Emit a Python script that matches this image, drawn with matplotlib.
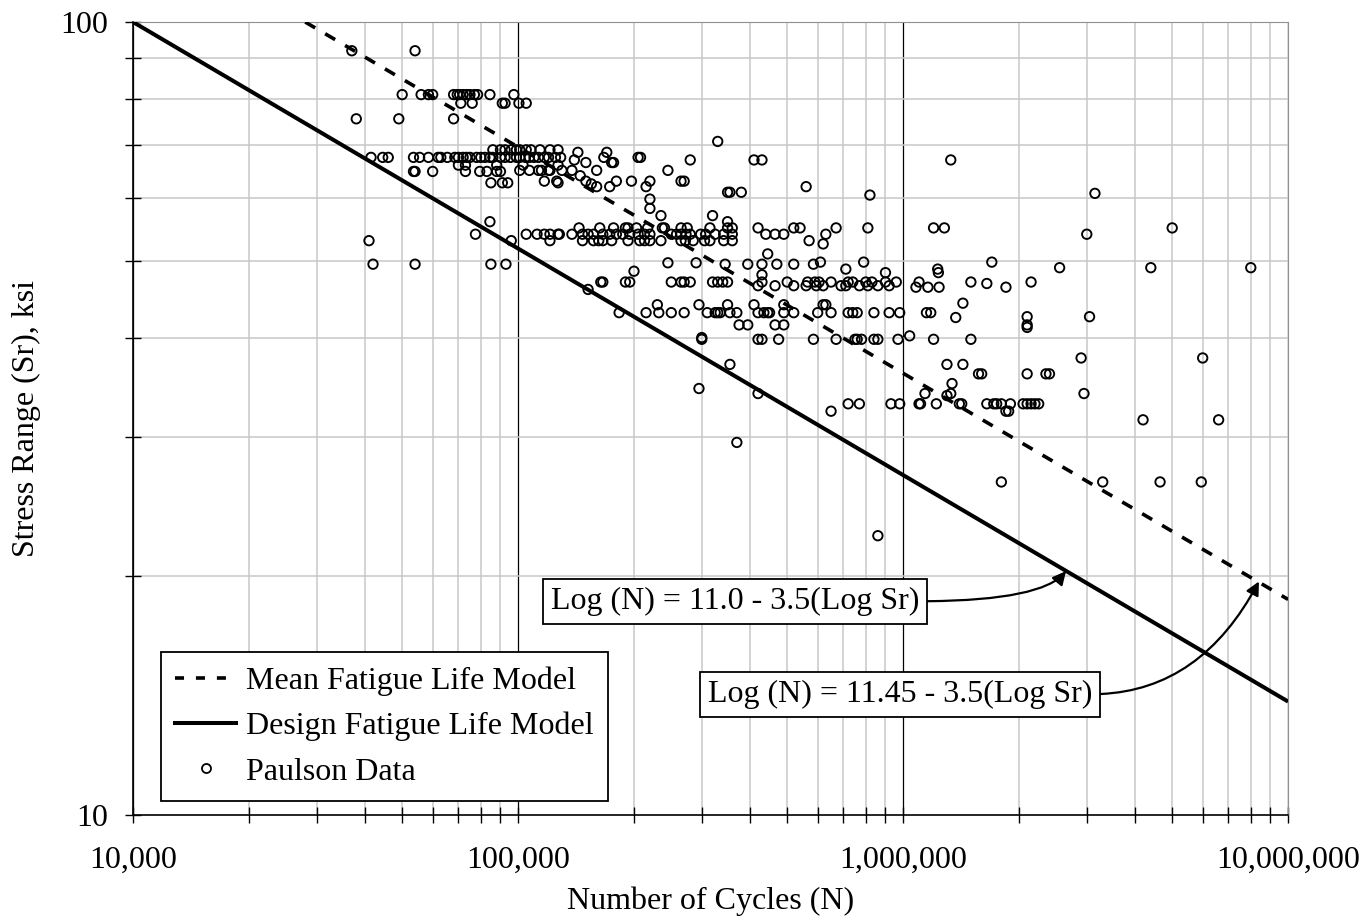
import matplotlib
matplotlib.use("Agg")
import matplotlib.pyplot as plt
from matplotlib.ticker import FuncFormatter, NullFormatter, LogLocator
from matplotlib.lines import Line2D

plt.rcParams['font.family'] = ['Liberation Serif', 'DejaVu Serif']
plt.rcParams['font.size'] = 23

# fatigue life model lines (end points)
design_n = [1e4, 1e7]
design_sr = [100.0, 13.9]
mean_n = [2.8e4, 1e7]
mean_sr = [100.0, 18.7]

# Paulson data, (cycles, stress range ksi)
paulson_low = [
    (37000, 92), (54000, 92),
    (50000, 81), (56000, 81), (58500, 81), (60000, 81), (68000, 81), (69500, 81),
    (70500, 81), (72000, 81), (73500, 81), (75000, 81), (77000, 81), (78500, 81),
    (84500, 81), (97500, 81),
    (71000, 79), (76000, 79), (91000, 79), (92500, 79), (100500, 79),
    (38000, 75.5), (49000, 75.5), (68000, 75.5),
    (86000, 69), (90000, 69), (92500, 69), (96000, 69), (99000, 69),
    (41500, 67.5), (44500, 67.5), (46000, 67.5), (53500, 67.5), (55500, 67.5),
    (58500, 67.5), (62000, 67.5), (63000, 67.5), (65500, 67.5), (68500, 67.5),
    (70000, 67.5), (72000, 67.5), (73500, 67.5), (75000, 67.5), (78000, 67.5),
    (80000, 67.5), (82000, 67.5), (84500, 67.5), (86000, 67.5), (90000, 67.5),
    (92500, 67.5), (95500, 67.5), (99000, 67.5),
    (70000, 66), (73000, 66), (88000, 66),
    (53500, 64.8), (54000, 64.8), (60000, 64.8), (73000, 64.8), (79500, 64.8),
    (83000, 64.8), (88000, 64.8), (90000, 64.8),
    (85000, 62.7), (91000, 62.7), (94000, 62.7),
    (41000, 53), (96000, 53), (77500, 54), (84500, 56),
    (42000, 49.5), (54000, 49.5), (85000, 49.5), (93000, 49.5),
]

paulson_mid = [
    (105000, 79), (330000, 70.7),
    (101000, 69), (105000, 69), (108000, 69), (114000, 69), (121000, 69),
    (127000, 69), (143000, 68.5), (170000, 68.5),
    (101000, 67.5), (104500, 67.5), (107000, 67.5), (110000, 67.5), (113000, 67.5),
    (117000, 67.5), (120000, 67.5), (125000, 67.5), (129000, 67.5), (167000, 67.5),
    (205000, 67.5), (208000, 67.5),
    (140000, 67), (280000, 67), (410000, 67), (430000, 67),
    (150000, 66.5), (175000, 66.5), (177000, 66.5), (103000, 66), (127000, 66),
    (101000, 65), (107000, 65), (113000, 65), (115000, 65), (120000, 65),
    (121000, 65), (130000, 65), (138000, 65), (160000, 65), (245000, 65),
    (145000, 64),
    (117000, 63), (126000, 63), (127000, 62.7), (150000, 63), (180000, 63),
    (197000, 63), (220000, 63), (265000, 63), (270000, 63),
    (155000, 62.5), (160000, 62), (173000, 62), (215000, 62),
    (350000, 61), (355000, 61), (380000, 61), (560000, 62), (820000, 60.5),
    (220000, 59.8), (220000, 58.2), (235000, 57), (320000, 57), (350000, 56),
    (105000, 54), (112000, 54), (117000, 54), (127000, 54), (121000, 53),
    (144000, 55), (163000, 55), (177000, 55), (190000, 55), (193000, 55),
    (203000, 55), (217000, 55), (237000, 55), (240000, 55), (265000, 55),
    (275000, 55), (315000, 55), (350000, 55), (360000, 55), (420000, 55),
    (520000, 55), (540000, 55), (670000, 55), (810000, 55),
    (121000, 54), (128000, 54), (138000, 54), (147000, 54), (152000, 54),
    (157000, 54), (166000, 54), (173000, 54), (180000, 54), (187000, 54),
    (195000, 54), (205000, 54), (213000, 54), (220000, 54), (250000, 54),
    (258000, 54), (265000, 54), (273000, 54), (280000, 54), (298000, 54),
    (307000, 54), (325000, 54), (342000, 54), (360000, 54), (440000, 54),
    (465000, 54), (490000, 54), (630000, 54),
    (147000, 53), (157000, 53), (162000, 53), (166000, 53), (175000, 53),
    (193000, 53), (207000, 53), (213000, 53), (220000, 53), (235000, 53),
    (265000, 53), (272000, 53), (285000, 53), (305000, 53), (315000, 53),
    (342000, 53), (360000, 53), (570000, 53), (620000, 52.5),
    (445000, 51),
    (245000, 49.7), (290000, 49.7), (345000, 49.5), (395000, 49.5), (430000, 49.5),
    (470000, 49.5), (520000, 49.5), (585000, 49.5), (610000, 49.8), (790000, 49.8),
    (710000, 48.8), (900000, 48.3), (200000, 48.5), (430000, 48),
    (164000, 47), (166000, 47), (190000, 47), (195000, 47), (250000, 47),
    (265000, 47), (270000, 47), (280000, 47), (320000, 47), (330000, 47),
    (340000, 47), (350000, 47), (152000, 46), (420000, 46.5),
    (430000, 47), (465000, 46.5), (500000, 47), (520000, 46.5), (560000, 46.5),
    (565000, 47), (590000, 47), (595000, 46.5), (605000, 47), (620000, 46.5),
    (650000, 47), (690000, 46.5), (710000, 46.5), (720000, 47), (740000, 47),
    (770000, 46.5), (800000, 47), (810000, 46.5), (830000, 47), (860000, 46.5),
    (900000, 47), (920000, 46.5), (960000, 47),
    (230000, 44), (295000, 44), (350000, 44), (410000, 44), (490000, 44),
    (620000, 44), (630000, 44),
    (183000, 43), (215000, 43), (232000, 43), (250000, 43), (270000, 43),
    (310000, 43), (325000, 43), (330000, 43), (335000, 43), (355000, 43),
    (370000, 43), (420000, 43), (435000, 43), (445000, 43), (450000, 43),
    (490000, 43), (520000, 43), (600000, 43), (650000, 43), (720000, 43),
    (740000, 43), (760000, 43), (840000, 43), (920000, 43), (980000, 43),
    (375000, 41.5), (395000, 41.5), (465000, 41.5), (490000, 41.5),
    (300000, 40), (300000, 39.8), (420000, 39.8), (430000, 39.8), (475000, 39.8),
    (585000, 39.8), (670000, 39.8), (750000, 39.8), (760000, 39.8), (780000, 39.8),
    (840000, 39.8), (860000, 39.8), (970000, 39.8),
    (355000, 37), (295000, 34.5), (420000, 34),
    (720000, 33), (770000, 33), (930000, 33), (980000, 33), (650000, 32.3),
    (370000, 29.5), (860000, 22.5),
]

paulson_high = [
    (1330000, 67), (3150000, 60.8), (1200000, 55), (1280000, 55), (5000000, 55),
    (3000000, 54), (1700000, 49.8), (1230000, 48.8), (1235000, 48.3),
    (2550000, 49), (4400000, 49), (8000000, 49),
    (1080000, 46.3), (1160000, 46.3), (1240000, 46.3), (1850000, 46.3),
    (1100000, 47), (1500000, 47), (2150000, 47), (1650000, 46.8),
    (1430000, 44.2), (1150000, 43), (1180000, 43), (1370000, 42.4),
    (2100000, 42.5), (3050000, 42.5), (2100000, 41.5), (2100000, 41.2),
    (1040000, 40.2), (1200000, 39.8), (1500000, 39.8),
    (2900000, 37.7), (6000000, 37.7), (1300000, 37), (1430000, 37),
    (1570000, 36), (1600000, 36), (2100000, 36), (2350000, 36), (2400000, 36),
    (1340000, 35), (1140000, 34), (1330000, 34), (1300000, 33.8), (2950000, 34),
    (1100000, 33), (1110000, 33), (1220000, 33), (1400000, 33), (1420000, 33),
    (1650000, 33), (1720000, 33), (1750000, 33), (1800000, 33), (1900000, 33),
    (2050000, 33), (2100000, 33), (2150000, 33), (2200000, 33), (2250000, 33),
    (1850000, 32.3), (1880000, 32.3), (4200000, 31.5), (6600000, 31.5),
    (1800000, 26.3), (3300000, 26.3), (4650000, 26.3), (5950000, 26.3),
]

x_tick_values = [1e4, 1e5, 1e6, 1e7]
y_tick_values = [10, 100]

fig = plt.figure(figsize=(13.69, 9.22), dpi=100)
ax = fig.add_axes([0.0972, 0.1161, 0.8437, 0.8600])
ax.set_xscale('log')
ax.set_yscale('log')
ax.set_xlim(1e4, 1e7)
ax.set_ylim(10, 100)

# grid like the excel original
ax.set_axisbelow(True)
ax.grid(which='minor', color='#c8c8c8', lw=1.1)
ax.xaxis.grid(True, which='major', color='black', lw=0.9)

ax.set_xticks(x_tick_values)
ax.set_yticks(y_tick_values)
ax.xaxis.set_minor_locator(LogLocator(base=10, subs=range(2, 10)))
ax.yaxis.set_minor_locator(LogLocator(base=10, subs=range(2, 10)))
ax.xaxis.set_major_formatter(FuncFormatter(lambda v, p: f'{int(round(v)):,}'))
ax.yaxis.set_major_formatter(FuncFormatter(lambda v, p: f'{int(round(v))}'))
ax.xaxis.set_minor_formatter(NullFormatter())
ax.yaxis.set_minor_formatter(NullFormatter())

ax.tick_params(which='both', direction='inout', width=1.0, color='black')
ax.tick_params(axis='y', which='both', length=12, pad=12)
ax.tick_params(axis='x', which='both', length=11, pad=17)

for side in ['top', 'right']:
    ax.spines[side].set_color('#909090')
for side in ['left', 'bottom']:
    ax.spines[side].set_color('black')
    ax.spines[side].set_linewidth(1.2)

for pts in [paulson_low, paulson_mid, paulson_high]:
    n, sr = zip(*pts)
    ax.scatter(n, sr, s=46, facecolors='none', edgecolors='black',
               linewidths=1.35, zorder=3)

ax.plot(mean_n, mean_sr, color='black', lw=2.6, dashes=(3.2, 3.2), zorder=4)
ax.plot(design_n, design_sr, color='black', lw=2.9, solid_capstyle='butt', zorder=4)

box = dict(boxstyle='square,pad=0.25', fc='white', ec='black', lw=1.3)
ax.annotate('Log (N) = 11.0 - 3.5(Log Sr)', xy=(2.65e6, 20.3), xytext=(3.66e5, 18.6),
            ha='center', va='center', bbox=box, zorder=6,
            arrowprops=dict(arrowstyle='-|>', color='black', lw=1.6, mutation_scale=20,
                            shrinkA=0, shrinkB=0, relpos=(1.0, 0.5),
                            connectionstyle='angle3,angleA=0,angleB=50'))
ax.annotate('Log (N) = 11.45 - 3.5(Log Sr)', xy=(8.4e6, 19.7), xytext=(9.8e5, 14.2),
            ha='center', va='center', bbox=box, zorder=6,
            arrowprops=dict(arrowstyle='-|>', color='black', lw=1.6, mutation_scale=20,
                            shrinkA=0, shrinkB=0, relpos=(1.0, 0.5),
                            connectionstyle='angle3,angleA=0,angleB=62'))

handles = [
    Line2D([], [], color='black', lw=2.6, dashes=(2.5, 3.3)),
    Line2D([], [], color='black', lw=2.9),
    Line2D([], [], ls='none', marker='o', ms=6.5, mfc='none', mec='black', mew=1.3),
]
labels = ['Mean Fatigue Life Model', 'Design Fatigue Life Model', 'Paulson Data']
leg = ax.legend(handles, labels, loc='lower left', bbox_to_anchor=(0.0242, 0.0177),
                borderaxespad=0, fancybox=False, framealpha=1, edgecolor='black',
                handlelength=1.9, handletextpad=0.3, labelspacing=0.5, borderpad=0.45)
leg.get_frame().set_linewidth(1.3)
leg.set_zorder(7)

ax.set_xlabel('Number of Cycles (N)', labelpad=8)
ax.set_ylabel('Stress Range (Sr), ksi', labelpad=14)

fig.savefig('out.png', dpi=100)
